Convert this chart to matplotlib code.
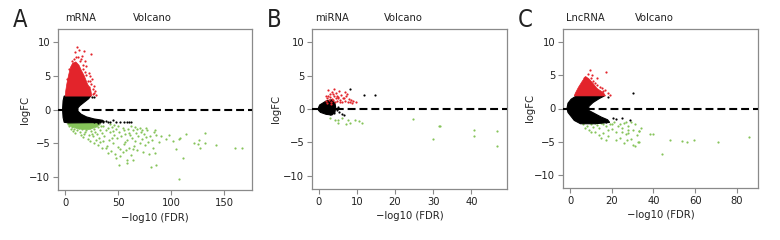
import numpy as np
import matplotlib
matplotlib.use('Agg')
import matplotlib.pyplot as plt
from matplotlib import font_manager

# narrow face if one is installed, the original uses a condensed font
installed = {f.name for f in font_manager.fontManager.ttflist}
if 'Liberation Sans Narrow' in installed:
    plt.rcParams['font.family'] = ['Liberation Sans Narrow', 'DejaVu Sans']
    FS = 8.5
else:
    plt.rcParams['font.family'] = ['DejaVu Sans']
    plt.rcParams['font.stretch'] = 'condensed'
    FS = 8

RED = '#e3242b'
GREEN = '#86c45a'
BOX = '#8a8a8a'
TXT = '#222222'

# ---- panel A : mRNA ----
# dense cores are read as outlines, sparse points one by one
mrna_black_core = [(-2.5, 0), (-2, 1.3), (-1, 2.0), (24, 2.0), (22, 1.6), (18, 1.1), (14, 0.6),
                   (12, 0.25), (12, -0.25), (15, -0.7), (20, -1.1), (27, -1.4), (35, -1.6),
                   (37, -1.8), (30, -1.95), (3, -2.0), (-1, -1.9), (-2, -1.2)]
mrna_red_core = [(0, 2.0), (25, 2.0), (24, 3.0), (21, 3.8), (18, 5.0), (15, 5.9), (13, 6.6),
                 (10, 7.1), (7, 6.9), (5, 6.3), (3, 5.0), (1.5, 3.8), (0.5, 2.8)]
mrna_green_core = [(2, -2.0), (33, -2.0), (30, -2.6), (22, -3.0), (12, -2.9), (5, -2.5)]
mrna_red_pts = [(11, 9.3), (13, 8.8), (9, 8.5), (18, 8.7), (24, 8.2), (15, 7.5), (12, 7.8),
                (20, 6.5), (22, 5.5), (17, 6.0), (25, 4.5), (27, 3.5), (28, 2.8), (23, 5.0),
                (19, 7.2), (16, 8.0), (10, 7.9), (26, 3.0), (21, 4.2), (14, 7.2), (26, 2.3),
                (24, 3.8), (20, 5.1), (8, 7.6), (29, 2.2), (27, 2.5), (23, 4.2), (19, 5.6),
                (17, 6.6), (6, 7.3), (4, 6.0), (2, 4.6), (22, 3.3)]
mrna_black_pts = [(25, -1.6), (28, -1.7), (30, -1.5), (33, -1.8), (36, -1.9), (38, -1.7),
                  (42, -1.8), (45, -1.6), (48, -1.9), (52, -1.9), (55, -1.8), (58, -1.9),
                  (60, -1.8), (62, -1.9), (40, -1.9), (27, -1.9), (31, -1.95), (25, 1.9),
                  (27, 1.8)]
mrna_green_pts = [
    (3, -2.1), (4, -2.4), (5, -2.2), (6, -2.6), (7, -2.3), (8, -2.9), (9, -2.2), (10, -2.5),
    (11, -3.1), (12, -2.3), (13, -2.7), (14, -3.3), (15, -2.2), (16, -2.9), (17, -2.4),
    (18, -3.6), (19, -2.6), (20, -3.0), (21, -2.2), (22, -3.8), (23, -2.7), (24, -3.2),
    (25, -2.4), (26, -4.0), (27, -2.9), (28, -3.4), (29, -2.3), (30, -3.7), (31, -2.6),
    (32, -4.2), (33, -3.0), (34, -2.4), (35, -3.5), (5, -2.9), (7, -3.2), (9, -3.5),
    (15, -3.8), (17, -4.1), (19, -3.4), (21, -4.4), (23, -4.7), (25, -3.6), (27, -5.0),
    (29, -4.5), (31, -5.3), (33, -4.8), (35, -5.8), (26, -2.2), (30, -2.1), (32, -2.2),
    (36, -2.5), (37, -4.0), (38, -3.1), (39, -5.5), (40, -2.8), (41, -4.6), (42, -3.4),
    (43, -6.2), (44, -2.6), (45, -5.0), (46, -3.8), (47, -6.6), (48, -2.9), (49, -4.3),
    (50, -5.6), (51, -3.3), (52, -7.0), (53, -4.0), (54, -2.7), (55, -5.2), (56, -3.6),
    (57, -6.1), (58, -4.5), (59, -2.9), (60, -5.8), (61, -3.8), (62, -6.8), (63, -4.2),
    (64, -3.1), (65, -5.4), (66, -4.7), (67, -3.5), (68, -6.0), (69, -4.0), (70, -5.0),
    (71, -3.3), (72, -4.4), (73, -6.4), (74, -3.7), (75, -5.3), (76, -4.1), (77, -3.0),
    (78, -4.8), (79, -6.6), (80, -3.9), (82, -4.6), (84, -3.4), (83, -5.8), (38, -5.8),
    (42, -2.2), (46, -2.3), (50, -2.4), (44, -4.2), (48, -7.2), (54, -6.3), (58, -7.5),
    (62, -2.4), (66, -2.6), (70, -2.7), (36, -4.7), (40, -6.5), (56, -4.8), (60, -3.5),
    (64, -5.9), (68, -2.9), (72, -3.0), (76, -2.8), (52, -5.9), (45, -3.2), (55, -3.0),
    (51, -8.3), (58, -8.0), (64, -7.5), (81, -8.5), (86, -8.3), (85.6, -3.75), (90, -3.9),
    (98, -3.75), (102, -4.75), (107, -4.4), (108.5, -4.25), (114, -3.6), (121, -5.0),
    (125, -5.15), (125.7, -4.6), (127, -5.75), (132, -3.5), (132, -5.0), (142, -5.25),
    (160, -5.75), (167, -5.75), (104, -5.9), (111, -7.25), (85, -6.5), (85, -3.0),
    (107, -10.3), (88, -4.8), (95, -4.4)]

# ---- panel B : miRNA ----
mirna_black_core = [(0, 0.2), (0.3, 0.6), (2, 1.2), (3.5, 1.4), (4.3, 0.9), (4.5, 0.2),
                    (4.3, -0.5), (3.5, -0.9), (2, -0.8), (0.5, -0.5), (0, -0.2)]
mirna_red_pts = [(2.0, 1.2), (2.3, 1.6), (2.5, 2.0), (2.6, 2.9), (2.8, 1.4), (3.0, 1.8),
                 (3.1, 2.3), (3.3, 1.1), (3.5, 1.5), (3.6, 2.6), (3.7, 2.2), (3.9, 1.3),
                 (4.0, 1.9), (4.1, 3.0), (4.3, 1.0), (4.5, 1.6), (4.6, 2.4), (4.8, 1.2),
                 (5.0, 1.8), (5.2, 1.7), (5.3, 2.7), (5.5, 1.1), (5.7, 1.4), (5.9, 2.1),
                 (6.1, 1.0), (6.3, 1.6), (6.6, 1.6), (6.8, 2.5), (7.0, 1.2), (7.3, 1.9),
                 (7.5, 2.3), (7.8, 1.0), (8.0, 1.5), (8.3, 1.1), (8.6, 1.3), (8.8, 0.9),
                 (9.0, 1.2), (9.7, 1.1), (1.9, 2.0), (2.2, 0.9), (3.2, 0.8), (4.8, 2.0)]
mirna_black_pts = [(8.3, 3.0), (11.8, 2.1), (14.9, 2.1), (6.2, -0.8), (4.0, -0.6),
                   (5.4, -0.5), (6.7, -0.85), (3.1, -0.8), (5.0, 0.3), (4.8, -0.2)]
mirna_green_pts = [(3.1, -1.3), (4.4, -1.6), (5.2, -1.7), (6.1, -1.35), (7.6, -1.6),
                   (8.3, -2.1), (9.6, -1.7), (10.5, -1.8), (11.4, -2.1), (7.3, -2.3),
                   (5.2, -2.1), (24.7, -1.5), (31.4, -2.6), (31.8, -2.5), (30.0, -4.5),
                   (40.6, -3.1), (40.6, -4.1), (46.8, -3.3), (46.8, -5.5)]

# ---- panel C : LncRNA ----
lnc_black_core = [(-1.5, 0), (-1, 0.8), (0.5, 1.4), (3, 1.9), (16.5, 1.9), (14, 1.5),
                  (11, 0.9), (9, 0.3), (9, -0.3), (12, -0.8), (15, -1.3), (18, -1.7),
                  (19, -2.1), (12, -2.3), (5, -2.3), (2, -1.8), (0, -1.0), (-1, -0.6)]
lnc_red_core = [(2, 1.9), (17, 1.9), (16, 2.4), (13, 3.0), (11, 3.8), (9, 4.5), (7.5, 4.8),
                (6, 4.2), (4, 3.2), (2.5, 2.3)]
lnc_red_pts = [(9.6, 5.8), (17.3, 5.5), (7.2, 4.7), (12.8, 4.6), (15.2, 3.1), (16.8, 2.8),
               (12, 3.9), (10.4, 5.0), (11, 4.2), (13, 3.6), (14.5, 3.3), (12.5, 2.9),
               (15.8, 2.6), (18, 2.3), (8.5, 5.2), (6.5, 4.6), (10, 4.6), (19, 2.1)]
lnc_black_pts = [(20.8, -1.5), (24.8, -1.5), (28.6, -1.8), (22.2, -1.6), (30.4, 2.3),
                 (18, 1.8), (17, -2.0)]
lnc_green_pts = [
    (6, -2.4), (7, -2.9), (8, -2.6), (9, -3.2), (10, -2.3), (11, -2.8), (12, -3.5),
    (13, -2.5), (14, -3.0), (15, -2.2), (16, -3.7), (17, -2.7), (18, -4.2), (19, -2.4),
    (20, -3.1), (21, -2.0), (22, -3.6), (23, -2.6), (24, -4.4), (25, -3.0), (26, -2.2),
    (27, -3.8), (28, -2.6), (29, -4.6), (30, -3.3), (31, -2.4), (32, -4.0), (33, -3.4),
    (34, -2.9), (12, -2.2), (14, -4.0), (16, -2.4), (18, -3.2), (20, -2.3), (22, -4.7),
    (24, -2.3), (26, -5.2), (28, -3.2), (30, -5.5), (10, -3.6), (17, -4.8), (25, -3.6),
    (27, -2.1), (29, -2.1), (31, -5.7), (33, -5.0), (15, -4.5), (9, -2.1), (11, -2.0),
    (13, -2.0), (33.3, -3.4), (38.4, -3.8), (40, -3.8), (48, -4.7), (53.6, -4.9),
    (56.3, -5.1), (59.5, -4.7), (71.2, -5.0), (86, -4.3), (44, -6.8), (32.8, -5.0),
    (27.2, -4.8), (28, -3.7)]

panels = [
    dict(letter='A', name='mRNA', xlim=(-6.8, 176), xticks=[0, 50, 100, 150],
         black_core=mrna_black_core, red_core=mrna_red_core, green_core=mrna_green_core,
         red=mrna_red_pts, black=mrna_black_pts, green=mrna_green_pts,
         pos=[58, 29, 252, 190], name_x=0.036, title_x=0.485, ylab_x=-0.144),
    dict(letter='B', name='miRNA', xlim=(-1.7, 49.3), xticks=[0, 10, 20, 30, 40],
         black_core=mirna_black_core, red_core=None, green_core=None,
         red=mirna_red_pts, black=mirna_black_pts, green=mirna_green_pts,
         pos=[312, 29, 507, 189], name_x=0.015, title_x=0.468, ylab_x=-0.16),
    dict(letter='C', name='LncRNA', xlim=(-3.4, 90.2), xticks=[0, 20, 40, 60, 80],
         black_core=lnc_black_core, red_core=lnc_red_core, green_core=None,
         red=lnc_red_pts, black=lnc_black_pts, green=lnc_green_pts,
         pos=[563, 29, 758, 188], name_x=0.015, title_x=0.47, ylab_x=-0.144),
]

W, H = 780, 240
fig = plt.figure(figsize=(W / 100, H / 100), dpi=100)

for p in panels:
    l, t, r, b = p['pos']
    ax = fig.add_axes([l / W, 1 - b / H, (r - l) / W, (b - t) / H])
    ax.set_xlim(p['xlim'])
    ax.set_ylim(-12, 12)

    if p['green_core'] is not None:
        g = np.array(p['green_core'])
        ax.fill(g[:, 0], g[:, 1], color=GREEN, lw=0.5, zorder=2)
    g = np.array(p['green'])
    ax.scatter(g[:, 0], g[:, 1], s=2.5, color=GREEN, lw=0, zorder=2)

    k = np.array(p['black_core'])
    ax.fill(k[:, 0], k[:, 1], color='black', lw=0.8, zorder=3)
    k = np.array(p['black'])
    ax.scatter(k[:, 0], k[:, 1], s=2.5, color='black', lw=0, zorder=3)

    if p['red_core'] is not None:
        rc = np.array(p['red_core'])
        ax.fill(rc[:, 0], rc[:, 1], color=RED, lw=0.5, zorder=3)
    rp = np.array(p['red'])
    ax.scatter(rp[:, 0], rp[:, 1], s=2.5, color=RED, lw=0, zorder=3)

    ax.axhline(0, color='black', lw=1.5, dashes=(3.8, 1.9), zorder=4)

    ax.set_xticks(p['xticks'])
    ax.set_yticks([-10, -5, 0, 5, 10])
    ax.set_yticklabels(['\u221210', '\u22125', '0', '5', '10'])
    for s in ax.spines.values():
        s.set_color(BOX)
        s.set_linewidth(0.9)
    ax.tick_params(direction='out', length=3.5, width=0.8, color=BOX, labelsize=FS,
                   labelcolor=TXT, pad=2)
    ax.set_xlabel('\u2212log10 (FDR)', fontsize=FS, color=TXT)
    ax.xaxis.set_label_coords(0.5, -0.14)
    ax.set_ylabel('logFC', fontsize=FS, color=TXT)
    ax.yaxis.set_label_coords(p['ylab_x'], 0.5)

    ax.text(p['name_x'], 1.07, p['name'], transform=ax.transAxes, fontsize=FS,
            ha='left', va='center', color=TXT)
    ax.text(p['title_x'], 1.07, 'Volcano', transform=ax.transAxes, fontsize=FS,
            ha='center', va='center', color=TXT)
    fig.text((l - 38) / W, 1 - 20 / H, p['letter'], fontsize=17, ha='center',
             va='center', color=TXT)

fig.savefig('out.png', dpi=100)
